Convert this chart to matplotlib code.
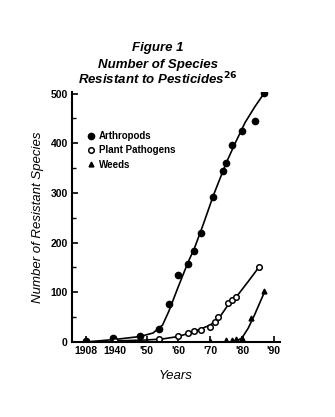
## Species resistant to pesticides ##
# coding: utf-8

import numpy as np
import matplotlib
matplotlib.use("Agg")
import matplotlib.pyplot as plt

# observed points (year, number of species)
arthropod_years = [1908, 1938, 1948, 1954, 1957, 1960, 1963, 1965, 1967, 1971, 1974, 1975, 1977, 1980, 1984, 1987]
arthropod_counts = [1, 7, 12, 26, 76, 135, 157, 183, 220, 292, 345, 360, 397, 425, 444, 501]

pathogen_years = [1940, 1954, 1960, 1963, 1965, 1967, 1970, 1971.5, 1972.6, 1975.7, 1976.8, 1978, 1985.4]
pathogen_counts = [2, 5, 11, 19, 23, 24, 31, 41, 51, 78, 84, 90, 151]

weed_years = [1970, 1975, 1977, 1978, 1980, 1983, 1987]
weed_counts = [2, 3, 4, 5, 8, 48, 102]

# fitted curves as drawn in the figure
arthropod_fit_years = [1908, 1940, 1948, 1952, 1955, 1957, 1960, 1963, 1965, 1968, 1971, 1975, 1978, 1981, 1984, 1987]
arthropod_fit = [0, 5, 11, 18, 34, 62, 112, 160, 188, 240, 295, 360, 402, 442, 473, 501]

pathogen_fit_years = [1940, 1950, 1955, 1960, 1965, 1970, 1973, 1976, 1979, 1982, 1985.4]
pathogen_fit = [2, 4, 6, 11, 21, 34, 50, 78, 97, 122, 151]

weed_fit_years = [1978, 1980, 1982, 1984, 1987.2]
weed_fit = [1, 8, 28, 55, 102]

xticks = [1908, 1940, 1950, 1960, 1970, 1980, 1990]
xtick_labels = ["1908", "1940", "'50", "'60", "'70", "'80", "'90"]
yticks = [0, 100, 200, 300, 400, 500]


# broken time axis: years before 1940 are squeezed
def fwd(x):
    x = np.asarray(x, dtype=float)
    return np.where(x < 1940, 1940 - (1940 - x) * 9.0 / 32.0, x)


def inv(t):
    t = np.asarray(t, dtype=float)
    return np.where(t < 1940, 1940 - (1940 - t) * 32.0 / 9.0, t)


plt.rcParams["font.family"] = ["Liberation Sans", "DejaVu Sans"]

fig = plt.figure(figsize=(3.35, 4.17), dpi=100)
ax = fig.add_axes([0.215, 0.180, 0.621, 0.599])
ax.set_xscale("function", functions=(fwd, inv))

ax.plot(arthropod_fit_years, arthropod_fit, "k-", lw=1.2)
ax.plot(pathogen_fit_years, pathogen_fit, "k-", lw=1.2)
ax.plot(weed_fit_years, weed_fit, "k-", lw=1.2)

ax.plot(arthropod_years, arthropod_counts, "o", color="k", ms=4.5, label="Arthropods")
ax.plot(pathogen_years, pathogen_counts, "o", mfc="white", mec="k", mew=1.1, ms=4.0, label="Plant Pathogens")
ax.plot(weed_years, weed_counts, "^", color="k", ms=3.5, label="Weeds")

ax.set_xlim(1892, 1992)
ax.set_ylim(0, 503)

ax.set_xticks(xticks)
ax.set_xticklabels(xtick_labels)
ax.set_yticks(yticks)
ax.set_yticks([50, 150, 250, 350, 450], minor=True)
ax.xaxis.set_minor_locator(matplotlib.ticker.NullLocator())
ax.tick_params(direction="in", length=4, width=1.2, labelsize=7.5, pad=3)
ax.tick_params(which="minor", direction="in", length=3, width=1)
for lab in ax.get_xticklabels() + ax.get_yticklabels():
    lab.set_fontweight("bold")

ax.spines["top"].set_visible(False)
ax.spines["right"].set_visible(False)
ax.spines["left"].set_linewidth(1.5)
ax.spines["bottom"].set_linewidth(1.5)

ax.set_xlabel("Years", style="italic", fontsize=9.5, labelpad=10)
ax.set_ylabel("Number of Resistant Species", style="italic", fontsize=9.5, labelpad=5)

leg = ax.legend(loc="upper left", bbox_to_anchor=(0.06, 0.86), frameon=False,
                fontsize=7, handlelength=0.6, handletextpad=0.5, labelspacing=0.45,
                borderaxespad=0)
for t in leg.get_texts():
    t.set_fontweight("bold")

fig.text(0.472, 0.878, "Figure 1", ha="center", fontsize=9.5, fontweight="bold", style="italic")
fig.text(0.472, 0.838, "Number of Species", ha="center", fontsize=9.5, fontweight="bold", style="italic")
fig.text(0.472, 0.798, r"Resistant to Pesticides$^{\mathbf{26}}$", ha="center", fontsize=9.5,
         fontweight="bold", style="italic")

fig.savefig("out.png", dpi=100)
